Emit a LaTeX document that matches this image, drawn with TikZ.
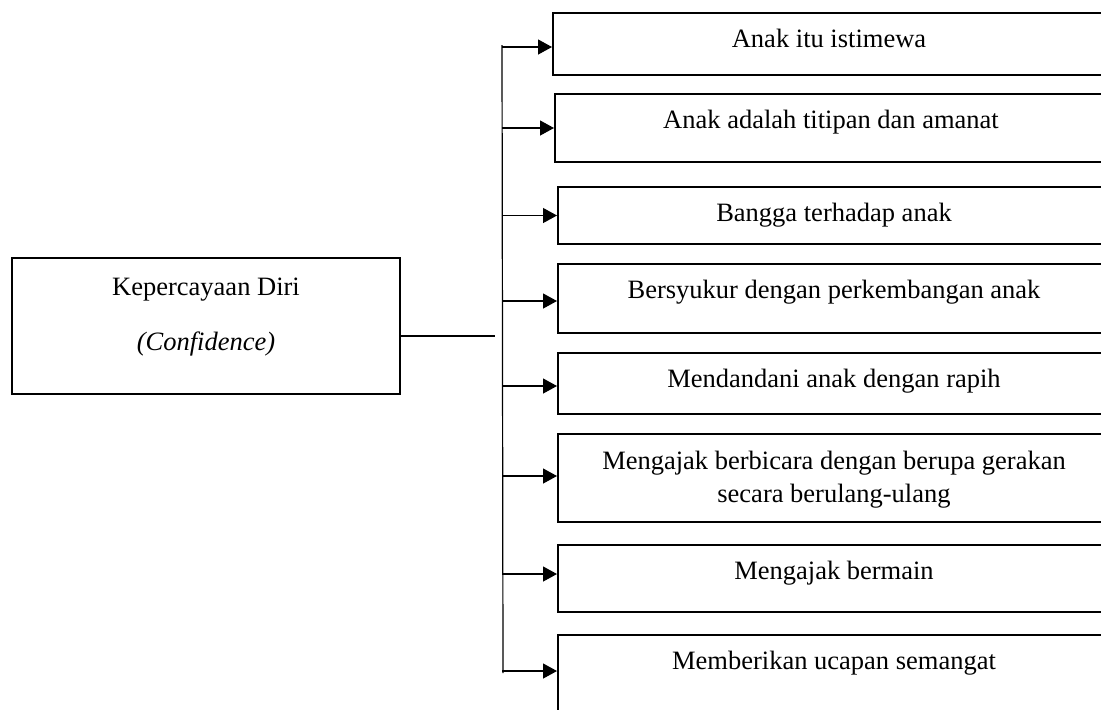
\documentclass[tikz,border=0pt]{standalone}
\usepackage{fontspec}
\setmainfont{Liberation Serif}
\usetikzlibrary{arrows.meta}

\begin{document}
\begin{tikzpicture}[x=0.5pt,y=-0.5pt]
    \tikzset{rootbox/.style = {draw, line width=1pt, anchor=north west, inner sep=0pt, align=center,
        minimum width=194pt, text height=46pt, text depth=22pt, font=\fontsize{13.25}{16.5}\selectfont}}
    \tikzset{item/.style = {draw, line width=1pt, anchor=north west, inner sep=0pt, align=center,
        minimum width=276pt, text height=17pt, font=\fontsize{13.25}{16.5}\selectfont}}
    \tikzset{arr/.style = {-{Triangle[length=7pt,width=7.5pt]}, line width=0.6pt}}
    \clip (0,0) rectangle (1101,709);

    % vertices
    \node[rootbox] (root) at (11,257) {Kepercayaan Diri\\[11pt]\textit{(Confidence)}};
    \node[item, text depth=14pt] (b1) at (552,12) {Anak itu istimewa};
    \node[item, text depth=17pt] (b2) at (554,93) {Anak adalah titipan dan amanat};
    \node[item, text depth=11.5pt] (b3) at (557,186) {Bangga terhadap anak};
    \node[item, text depth=17.5pt] (b4) at (557,263) {Bersyukur dengan perkembangan anak};
    \node[item, text depth=13.5pt] (b5) at (557,352) {Mendandani anak dengan rapih};
    \node[item, text height=34pt, text depth=10pt] (b6) at (557,433) {Mengajak berbicara dengan berupa gerakan\\secara berulang-ulang};
    \node[item, text depth=16.5pt] (b7) at (557,544) {Mengajak bermain};
    \node[item, text depth=28pt] (b8) at (557,634) {Memberikan ucapan semangat};

    \coordinate (joint) at (495,336);
    \coordinate (spinetop) at (502,45);
    \coordinate (spinebot) at (503,673);

    % edges
    \draw[line width=0.6pt] (root.east |- joint) -- (joint);
    \draw[line width=0.6pt] (spinetop) -- (spinebot);
    \draw[arr] (spinetop |- b1.west) ++(0,3) -- ([yshift=-1.5pt]b1.west);
    \draw[arr] (spinetop |- b2.west) -- (b2.west);
    \draw[arr] (spinetop |- b3.west) -- (b3.west);
    \draw[arr] (spinetop |- b4.west) ++(0,2.5) -- ([yshift=-1.25pt]b4.west);
    \draw[arr] (spinetop |- b5.west) ++(0,2.5) -- ([yshift=-1.25pt]b5.west);
    \draw[arr] (spinetop |- b6.west) ++(0,-2) -- ([yshift=1pt]b6.west);
    \draw[arr] (spinetop |- b7.west) ++(0,-4.5) -- ([yshift=2.25pt]b7.west);
    \draw[arr] (spinetop |- b8.west) ++(0,-9) -- ([yshift=4.5pt]b8.west);
\end{tikzpicture}
\end{document}
